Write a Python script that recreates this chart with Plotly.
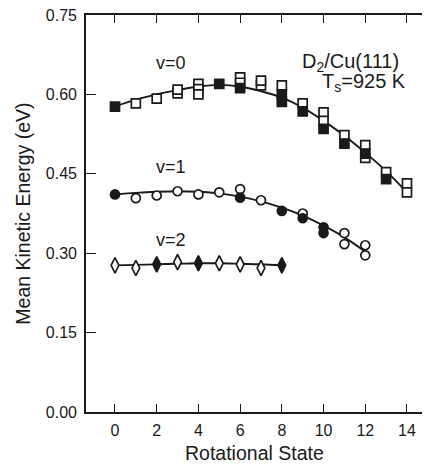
import plotly.graph_objects as go

# ---- data ----
J_curve0 = [0, 1, 2, 3, 4, 5, 6, 7, 8, 9, 10, 11, 12, 13, 14]
E_curve0 = [0.577, 0.590, 0.600, 0.608, 0.615, 0.618, 0.615, 0.606, 0.594, 0.575, 0.550, 0.522, 0.490, 0.455, 0.415]
J_curve1 = [0, 1, 2, 3, 4, 5, 6, 7, 8, 9, 10, 11, 12]
E_curve1 = [0.411, 0.414, 0.416, 0.417, 0.416, 0.413, 0.407, 0.398, 0.386, 0.371, 0.352, 0.330, 0.303]
J_curve2 = [0, 1, 2, 3, 4, 5, 6, 7, 8]
E_curve2 = [0.277, 0.278, 0.279, 0.280, 0.281, 0.281, 0.280, 0.279, 0.277]

J_v0_open = [1, 2, 3, 3, 4, 4, 4, 6, 6, 7, 7, 8, 9, 10, 10, 11, 12, 12, 13, 14, 14]
E_v0_open = [0.583, 0.592, 0.602, 0.609, 0.620, 0.610, 0.600, 0.632, 0.622, 0.617, 0.626, 0.617, 0.583, 0.566, 0.550, 0.523, 0.504, 0.480, 0.453, 0.432, 0.415]
J_v0_fill = [0, 5, 6, 8, 8, 9, 10, 11, 12, 13]
E_v0_fill = [0.577, 0.620, 0.612, 0.600, 0.586, 0.568, 0.535, 0.507, 0.488, 0.440]

J_v1_open = [1, 2, 3, 4, 5, 6, 7, 9, 11, 11, 12, 12]
E_v1_open = [0.404, 0.409, 0.417, 0.411, 0.415, 0.421, 0.400, 0.375, 0.338, 0.317, 0.315, 0.296]
J_v1_fill = [0, 6, 8, 9, 10, 10]
E_v1_fill = [0.411, 0.405, 0.380, 0.366, 0.349, 0.338]

J_v2_open = [0, 1, 3, 5, 6, 7]
E_v2_open = [0.277, 0.272, 0.283, 0.281, 0.279, 0.272]
J_v2_fill = [2, 4, 8]
E_v2_fill = [0.279, 0.281, 0.277]

x_ticks = [0, 2, 4, 6, 8, 10, 12, 14]
y_ticks = [0.00, 0.15, 0.30, 0.45, 0.60, 0.75]

INK = "#1a1a1a"
FONT = "Liberation Sans, Arial, sans-serif"

fig = go.Figure()

for jx, ey in [(J_curve0, E_curve0), (J_curve1, E_curve1), (J_curve2, E_curve2)]:
    fig.add_trace(go.Scatter(x=jx, y=ey, mode="lines", line=dict(color=INK, width=1.9, shape="spline"),
                             hoverinfo="skip", showlegend=False))

def pts(jx, ey, symbol, fill, size):
    fig.add_trace(go.Scatter(x=jx, y=ey, mode="markers", showlegend=False,
                             marker=dict(symbol=symbol, size=size, color=fill,
                                         line=dict(color=INK, width=1.7))))

pts(J_v0_open, E_v0_open, "square", "white", 9)
pts(J_v0_fill, E_v0_fill, "square", INK, 9)
pts(J_v1_open, E_v1_open, "circle", "white", 9)
pts(J_v1_fill, E_v1_fill, "circle", INK, 9)
pts(J_v2_open, E_v2_open, "diamond-tall", "white", 11)
pts(J_v2_fill, E_v2_fill, "diamond-tall", INK, 11)

ann = [
    dict(x=2.68, y=0.660, text="v=0", size=18),
    dict(x=2.68, y=0.462, text="v=1", size=18),
    dict(x=2.68, y=0.325, text="v=2", size=18),
    dict(x=11.27, y=0.660, text="D<sub>2</sub>/Cu(111)", size=20),
    dict(x=11.94, y=0.622, text="T<sub>s</sub>=925 K", size=20),
]
annotations = [dict(x=a["x"], y=a["y"], xref="x", yref="y", text=a["text"], showarrow=False,
                    font=dict(family=FONT, size=a["size"], color=INK)) for a in ann]
annotations.append(dict(x=0.5, y=-0.104, xref="paper", yref="paper", text="Rotational State",
                        showarrow=False, yanchor="middle", font=dict(family=FONT, size=19.5, color=INK)))
annotations.append(dict(x=-0.19, y=0.5, xref="paper", yref="paper", text="Mean Kinetic Energy (eV)",
                        showarrow=False, textangle=-90, xanchor="center", yanchor="middle",
                        font=dict(family=FONT, size=19.5, color=INK)))

fig.update_layout(
    width=425, height=464,
    margin=dict(l=86, r=3, t=15, b=52),
    paper_bgcolor="white", plot_bgcolor="white",
    font=dict(family=FONT, color=INK),
    annotations=annotations,
    xaxis=dict(range=[-1.39, 14.72], tickvals=x_ticks, ticks="inside", ticklen=8, tickwidth=1.3,
               tickcolor=INK, showline=True, linecolor=INK, linewidth=1.6, mirror="ticks",
               showgrid=False, zeroline=False, tickfont=dict(size=16, family=FONT, color=INK),
               ticklabelstandoff=3),
    yaxis=dict(range=[0, 0.75], tickvals=y_ticks, tickformat=".2f", ticks="inside", ticklen=10,
               tickwidth=1.3, tickcolor=INK, showline=True, linecolor=INK, linewidth=1.6,
               showgrid=False, zeroline=False, tickfont=dict(size=16, family=FONT, color=INK),
               ticklabelstandoff=4),
)

fig.write_html("out.html")
